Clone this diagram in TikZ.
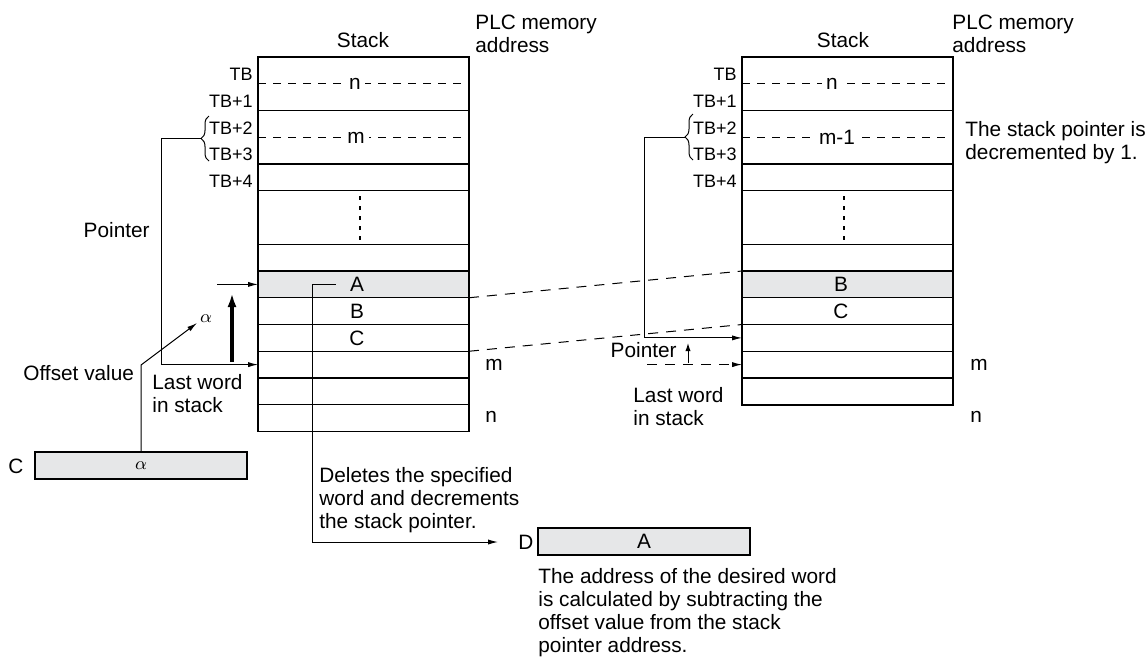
\documentclass[tikz,border=0pt]{standalone}
\usepackage{fontspec}
\setmainfont{Liberation Sans}
\usetikzlibrary{arrows.meta,decorations.pathreplacing}

\definecolor{wordgray}{HTML}{E6E7E8}

\tikzset{
  every node/.style={font=\fontsize{10.4}{11.5}\selectfont, inner sep=0pt},
  addr/.style={anchor=east, font=\fontsize{9}{10}\selectfont},
  greek/.style={font=\fontsize{9}{10}\selectfont},
  stackframe/.style={line width=0.8pt},
  rowline/.style={line width=0.7pt},
  halfline/.style={line width=0.5pt, dash pattern=on 4pt off 3.5pt},
  vdots/.style={line width=0.9pt, dash pattern=on 2pt off 3pt},
  gap/.style={fill=white, inner xsep=2pt, inner ysep=1pt},
  wordbox/.style={draw, line width=0.8pt, fill=wordgray, minimum width=106pt, minimum height=13.5pt},
  link/.style={line width=0.5pt},
  jump/.style={line width=0.5pt, dash pattern=on 5pt off 4pt},
  arr/.style={-{Latex[length=5pt,width=2.6pt]}},
  brc/.style={decorate, decoration={brace, amplitude=4pt}, line width=0.5pt},
}

\begin{document}
\begin{tikzpicture}[x=0.5pt,y=-0.5pt]
\useasboundingbox (0,0) rectangle (1148,661);

% left stack
\fill[wordgray] (258,271) rectangle (469,297.75);
\foreach \k in {2,4,5,7,8,...,13}
  \draw[rowline] (258,57+26.75*\k) -- (469,57+26.75*\k);
\foreach \k in {1,3}
  \draw[halfline] (258,57+26.75*\k) -- (469,57+26.75*\k);
\draw[stackframe] (258,57) rectangle (469,431.5);
\draw[vdots] (360,196) -- (360,240);
\node[gap] (nL) at (355,83.75) {n};
\node[gap] (mL) at (356,137.5) {m};
\node (wA) at (357,284.4) {A};
\node (wB) at (357,311.1) {B};
\node (wC) at (357,337.9) {C};
\node (stkL) at (363,40) {Stack};
\node[anchor=west, align=left] (plcL) at (475,33.5) {PLC memory\\address};
\foreach \lab [count=\i from 0] in {TB,TB+1,TB+2,TB+3,TB+4}
  \node[addr] (aL\i) at (253,74.4+26.75*\i) {\lab};
\node[anchor=west] (mLo) at (485,365) {m};
\node[anchor=west] (nLo) at (485,417) {n};

% right stack
\fill[wordgray] (742,271) rectangle (953,297.75);
\foreach \k in {2,4,5,7,8,...,12}
  \draw[rowline] (742,57+26.75*\k) -- (953,57+26.75*\k);
\foreach \k in {1,3}
  \draw[halfline] (742,57+26.75*\k) -- (953,57+26.75*\k);
\draw[stackframe] (742,57) rectangle (953,404.75);
\draw[vdots] (844,196) -- (844,240);
\node[gap] (nR) at (832,83.75) {n};
\node[gap] (mR) at (837,137.5) {m-1};
\node (rB) at (841,284.4) {B};
\node (rC) at (841,311.1) {C};
\node (stkR) at (843,40) {Stack};
\node[anchor=west, align=left] (plcR) at (952,33.5) {PLC memory\\address};
\foreach \lab [count=\i from 0] in {TB,TB+1,TB+2,TB+3,TB+4}
  \node[addr] (aR\i) at (737,74.4+26.75*\i) {\lab};
\node[anchor=west] (mRo) at (970,365) {m};
\node[anchor=west] (nRo) at (970,417) {n};
\node[anchor=west, align=left] (decR) at (965,142.5) {The stack pointer is\\decremented by 1.};

% moved words
\draw[jump] (469,297.75) -- (742,271);
\draw[jump] (469,351.25) -- (742,324.5);

% left pointer and offset
\draw[brc] (209,161) -- (209,116);
\coordinate (ptrL) at (201,138.5);
\coordinate (lastL) at (258,364.6);
\draw[link, arr] (ptrL) -- (161,138.5) |- (lastL);
\node[anchor=east] (ptrTxtL) at (150,230) {Pointer};
\node[anchor=west, align=left] (lastTxtL) at (152,393.5) {Last word\\in stack};
\node[anchor=west] (offTxt) at (23,373) {Offset value};
\node[wordbox, greek] (cbox) at (141,465.5) {$\alpha$};
\node (cLab) at (16,466) {C};
\coordinate (alphaTip) at (197,323);
\draw[link, arr] (cbox.north) -- (141,365) -- (alphaTip);
\node[greek] (alphaLab) at (206,319) {$\alpha$};
\coordinate (upFoot) at (232,362);
\coordinate (upHead) at (232,293);
\draw[line width=1.6pt, -{Latex[length=7pt,width=4.5pt]}] (upFoot) -- (upHead);
\coordinate (aFrom) at (217,284.4);
\coordinate (aTo) at (258,284.4);
\draw[link, arr] (aFrom) -- (aTo);

% deleted word
\node[wordbox] (dbox) at (644,541.5) {A};
\node (dLab) at (526,542) {D};
\coordinate (dIn) at (498,542);
\draw[link, arr] (wA.west) ++(-14,0) -- (312,284.4) |- (dIn);
\node[anchor=west, align=left] (delTxt) at (319,500) {Deletes the specified\\word and decrements\\the stack pointer.};
\node[anchor=west, align=left] (addrTxt) at (538,612.5) {The address of the desired word\\is calculated by subtracting the\\offset value from the stack\\pointer address.};

% right pointer
\draw[brc] (693,160) -- (693,114);
\coordinate (ptrR) at (685,137);
\coordinate (lastR) at (742,337.9);
\draw[link, arr] (ptrR) -- (644,137) |- (lastR);
\node[anchor=east] (ptrTxtR) at (677,350) {Pointer};
\coordinate (upFootR) at (688,363);
\coordinate (upHeadR) at (688,343);
\draw[link, -{Latex[length=4pt,width=2.6pt]}] (upFootR) -- (upHeadR);
\coordinate (oldFrom) at (647,364.6);
\coordinate (oldTo) at (742,364.6);
\draw[jump, arr] (oldFrom) -- (oldTo);
\node[anchor=west, align=left] (lastTxtR) at (633,406.5) {Last word\\in stack};
\end{tikzpicture}
\end{document}
